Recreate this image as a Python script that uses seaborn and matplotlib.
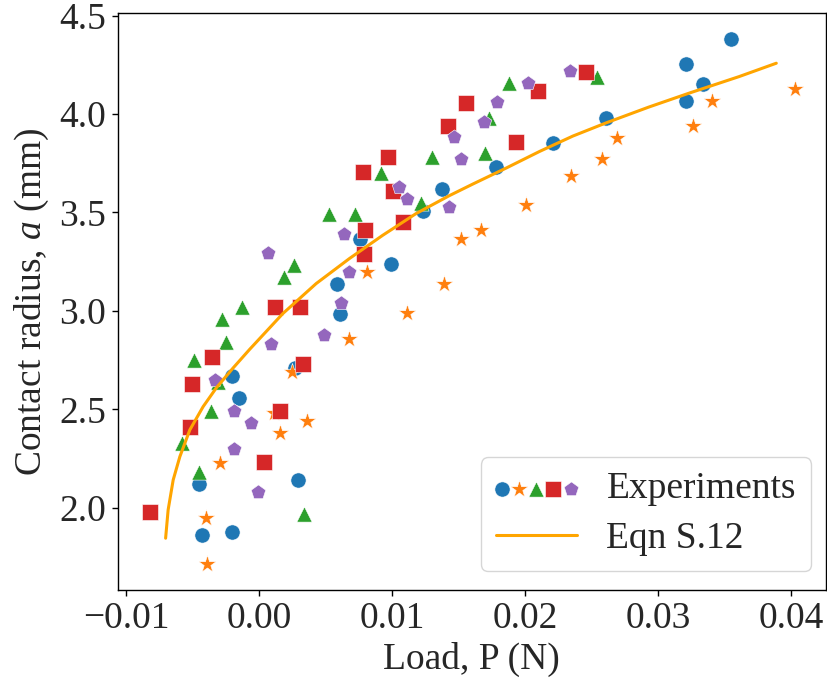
import matplotlib
matplotlib.use("Agg")
import matplotlib.pyplot as plt
from matplotlib.legend_handler import HandlerTuple
import seaborn as sns

# Measured contact radius a (mm) versus load P (N), five experimental runs
run1_load = [-0.0043, -0.0020, 0.0029, -0.0045, -0.0015, -0.0020, 0.0027, 0.0061, 0.0059, 0.0076,
             0.0099, 0.0123, 0.0138, 0.0178, 0.0221, 0.0261, 0.0321, 0.0321, 0.0334, 0.0355]
run1_radius = [1.86, 1.88, 2.14, 2.12, 2.56, 2.67, 2.71, 2.985, 3.135, 3.365,
               3.24, 3.51, 3.62, 3.73, 3.854, 3.98, 4.066, 4.255, 4.15, 4.38]

run2_load = [-0.0040, -0.0039, -0.0029, 0.0016, 0.0036, 0.0011, 0.0025, 0.0068, 0.0081, 0.0111,
             0.0139, 0.0152, 0.0167, 0.0201, 0.0235, 0.0258, 0.0269, 0.0326, 0.0341, 0.0403]
run2_radius = [1.95, 1.716, 2.23, 2.38, 2.44, 2.48, 2.69, 2.86, 3.20, 2.99,
               3.136, 3.367, 3.41, 3.537, 3.685, 3.77, 3.877, 3.94, 4.067, 4.128]

run3_load = [0.0034, -0.0045, -0.0058, -0.0036, -0.0031, -0.0049, -0.0025, -0.0028, -0.0013, 0.0019,
             0.0026, 0.0053, 0.0072, 0.0092, 0.0122, 0.0130, 0.0170, 0.0173, 0.0188, 0.0254]
run3_radius = [1.97, 2.18, 2.33, 2.49, 2.64, 2.75, 2.84, 2.96, 3.02, 3.17,
               3.235, 3.49, 3.49, 3.70, 3.547, 3.78, 3.80, 3.98, 4.156, 4.19]

run4_load = [-0.0082, 0.0004, -0.0052, 0.0016, -0.0050, 0.0033, -0.0035, 0.0012, 0.0031, 0.0079,
             0.0080, 0.0108, 0.0101, 0.0078, 0.0097, 0.0193, 0.0142, 0.0156, 0.0210, 0.0246]
run4_radius = [1.98, 2.235, 2.41, 2.49, 2.63, 2.73, 2.765, 3.02, 3.02, 3.29,
               3.41, 3.45, 3.61, 3.705, 3.78, 3.86, 3.94, 4.057, 4.117, 4.215]

run5_load = [-0.0001, -0.0019, -0.0006, -0.0019, -0.0033, 0.0009, 0.0049, 0.0062, 0.0068, 0.0007,
             0.0064, 0.0111, 0.0105, 0.0143, 0.0152, 0.0147, 0.0169, 0.0179, 0.0202, 0.0234]
run5_radius = [2.08, 2.30, 2.43, 2.49, 2.65, 2.83, 2.88, 3.04, 3.196, 3.296,
               3.39, 3.57, 3.63, 3.53, 3.77, 3.885, 3.96, 4.06, 4.16, 4.218]

# Model prediction (Eqn S.12)
model_load = [-0.00702, -0.00683, -0.00645, -0.00595, -0.0052, -0.0042, -0.0032, -0.00195, -0.0007,
              0.0018, 0.0043, 0.0068, 0.0093, 0.0118, 0.0143, 0.0161, 0.0186, 0.0211, 0.0236,
              0.0261, 0.0293, 0.0323, 0.0361, 0.0389]
model_radius = [1.846, 1.99, 2.142, 2.26, 2.396, 2.514, 2.61, 2.71, 2.805,
                2.987, 3.139, 3.266, 3.384, 3.494, 3.585, 3.645, 3.726, 3.81, 3.888,
                3.955, 4.035, 4.105, 4.19, 4.258]

x_label = "Load, P (N)"
y_label = "Contact radius, $a$ (mm)"
legend_labels = ["Experiments", "Eqn S.12"]

sns.set_style("ticks")
plt.rcParams["font.family"] = ["Liberation Serif", "DejaVu Serif"]
plt.rcParams["mathtext.fontset"] = "custom"
plt.rcParams["mathtext.rm"] = "Liberation Serif"
plt.rcParams["mathtext.it"] = "Liberation Serif:italic"
plt.rcParams["axes.unicode_minus"] = True

FS = 27

fig = plt.figure(figsize=(8.27, 6.83), dpi=100)
ax = fig.add_axes([118 / 827, 93 / 683, (825.5 - 118) / 827, (590 - 13) / 683])

runs = [
    (run1_load, run1_radius, "o", "#1f77b4", 120),
    (run2_load, run2_radius, "*", "#ff7f0e", 170),
    (run3_load, run3_radius, "^", "#2ca02c", 120),
    (run4_load, run4_radius, "s", "#d62728", 120),
    (run5_load, run5_radius, "p", "#9467bd", 120),
]
handles = []
for load, radius, marker, color, size in runs:
    n_before = len(ax.collections)
    sns.scatterplot(x=load, y=radius, marker=marker, color=color, s=size,
                    edgecolor="white", linewidth=0.4, ax=ax, zorder=2)
    handles.append(ax.collections[n_before])

sns.lineplot(x=model_load, y=model_radius, sort=False, estimator=None,
             color="orange", linewidth=2.2, ax=ax, zorder=3)
line = ax.lines[-1]

ax.set_xlim(-0.0106, 0.0426)
ax.set_ylim(1.583, 4.513)
ax.set_xticks([-0.01, 0.0, 0.01, 0.02, 0.03, 0.04])
ax.set_yticks([2.0, 2.5, 3.0, 3.5, 4.0, 4.5])
ax.set_xticklabels(["\u22120.01", "0.00", "0.01", "0.02", "0.03", "0.04"])
ax.set_yticklabels(["2.0", "2.5", "3.0", "3.5", "4.0", "4.5"])
ax.tick_params(axis="both", labelsize=FS, length=4.5, width=1.0, color="black",
               direction="out", pad=4)
for sp in ax.spines.values():
    sp.set_color("black")
    sp.set_linewidth(1.0)

ax.set_xlabel(x_label, fontsize=FS, labelpad=4)
ax.set_ylabel(y_label, fontsize=FS, labelpad=6)

leg = ax.legend([tuple(handles), line], legend_labels,
                handler_map={tuple: HandlerTuple(ndivide=None, pad=0.15)},
                loc="lower right", bbox_to_anchor=(811 / 827, 112 / 683),
                bbox_transform=fig.transFigure, borderaxespad=0,
                fontsize=FS, handlelength=2.15, frameon=True, fancybox=True,
                framealpha=0.8, edgecolor="#cccccc", labelspacing=0.4)

fig.savefig("out.png", dpi=100)
